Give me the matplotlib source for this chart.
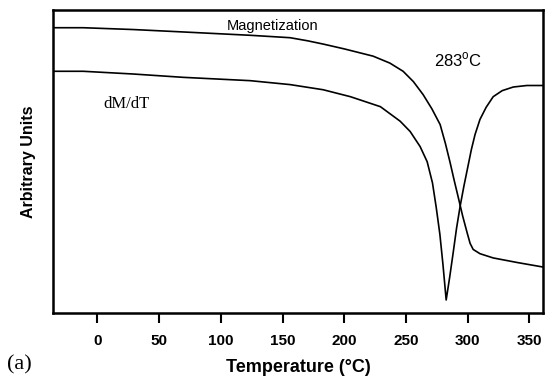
import matplotlib
matplotlib.use('Agg')
import matplotlib.pyplot as plt

# magnetization curve (temperature in C, arbitrary units)
mag_temp = [-36, -11.6, 28.9, 69.4, 123.7, 156.1, 170, 182.9, 200, 223.4,
            237, 247.7, 256, 263.9, 271, 277.7, 282, 285.8, 289, 292.3,
            296, 299.6, 302, 304.5, 310, 320.7, 340, 361]
mag_val = [94.3, 94.3, 93.7, 92.9, 91.8, 91.0, 90.0, 88.9, 87.3, 84.9,
           82.6, 79.9, 76.5, 72.2, 67.5, 62.3, 56.0, 49.7, 44.0, 38.4,
           32.0, 26.5, 23.0, 21.0, 19.6, 18.2, 16.7, 15.2]

# derivative curve dM/dT
dmdt_temp = [-36, -11.6, 28.9, 69.4, 123.7, 156.1, 182.9, 205, 229.3, 245.3,
             253.4, 261.5, 267.2, 271.5, 274.5, 277.5, 280, 282.6, 285.5,
             288.3, 291, 294, 297, 300, 303, 306, 310, 315, 320.7, 328,
             337, 348, 361]
dmdt_val = [79.9, 79.9, 79.0, 77.9, 76.8, 75.5, 73.8, 71.5, 68.2, 63.4,
            60.0, 55.0, 50.0, 43.0, 35.0, 26.0, 16.0, 4.3, 12.0,
            20.0, 28.0, 35.5, 42.0, 48.0, 54.0, 59.0, 64.0, 68.0, 71.5, 73.5,
            74.7, 75.2, 75.2]

xticks = [0, 50, 100, 150, 200, 250, 300, 350]

plt.rcParams['font.family'] = 'Liberation Sans'
plt.rcParams['mathtext.fontset'] = 'custom'
plt.rcParams['mathtext.rm'] = 'Liberation Sans'

fig = plt.figure(figsize=(5.54, 3.81), dpi=100)
ax = fig.add_axes([0.0957, 0.1785, 0.8843, 0.794])

ax.plot(mag_temp, mag_val, color='black', lw=1.2)
ax.plot(dmdt_temp, dmdt_val, color='black', lw=1.2)

ax.set_xlim(-36, 361)
ax.set_ylim(0, 100)
ax.set_xticks(xticks)
ax.set_xticklabels([str(t) for t in xticks], fontweight='bold', fontsize=11)
ax.tick_params(axis='x', direction='out', length=7, width=1.5, pad=8)
ax.set_yticks([])
for s in ax.spines.values():
    s.set_linewidth(1.8)

ax.set_xlabel('Temperature (\u00b0C)', fontweight='bold', fontsize=13, labelpad=8)
ax.set_ylabel('Arbitrary Units', fontweight='bold', fontsize=11.5, labelpad=12)

ax.text(0.449, 0.948, 'Magnetization', transform=ax.transAxes, fontsize=10.5,
        ha='center', va='center')
ax.text(0.15, 0.69, 'dM/dT', transform=ax.transAxes, fontsize=12,
        family='Liberation Serif', ha='center', va='center')
ax.text(0.876, 0.838, '283$^{\\mathrm{o}}$C', transform=ax.transAxes, fontsize=12,
        ha='right', va='center')

fig.text(0.012, 0.042, '(a)', fontsize=16, family='Liberation Serif',
         ha='left', va='center')

fig.savefig('out.png', dpi=100)
